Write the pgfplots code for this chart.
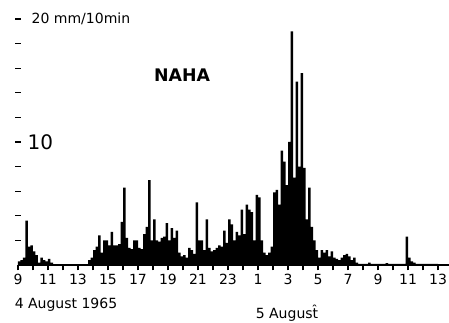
\documentclass[border=0pt]{standalone}
\usepackage{fontspec}
\setmainfont{DejaVu Sans}
\usepackage{pgfplots}
\pgfplotsset{compat=1.18}
\pgfplotstableread{
x y
0 0.3
1 0.4
2 0.6
3 3.6
4 1.5
5 1.6
6 1.1
7 0.8
8 0.2
9 0.6
10 0.4
11 0.3
12 0.5
13 0.2
14 0
27 0
28 0.4
29 0.6
30 1.2
31 1.5
32 2.4
33 1.0
34 2.0
35 2.0
36 1.6
37 2.7
38 1.6
39 1.6
40 1.7
41 3.5
42 6.3
43 2.2
44 1.4
45 1.3
46 2.0
47 2.0
48 1.4
49 1.3
50 2.5
51 3.1
52 6.9
53 2.0
54 3.7
55 2.0
56 1.9
57 2.2
58 2.3
59 3.4
60 2.0
61 3.0
62 2.2
63 2.8
64 1.0
65 0.7
66 0.8
67 0.6
68 1.4
69 1.2
70 0.9
71 5.1
72 2.0
73 2.0
74 1.2
75 3.7
76 1.4
77 1.1
78 1.2
79 1.4
80 1.6
81 1.5
82 2.8
83 1.8
84 3.7
85 3.3
86 2.0
87 2.7
88 2.4
89 4.5
90 2.5
91 4.9
92 4.5
93 4.3
94 2.0
95 5.7
96 5.5
97 2.0
98 1.0
99 0.8
100 1.0
101 1.5
102 5.9
103 6.1
104 4.9
105 9.3
106 8.4
107 6.5
108 10.0
109 19.0
110 7.1
111 14.9
112 8.0
113 15.6
114 7.9
115 3.7
116 6.3
117 3.1
118 2.0
119 1.2
120 0.6
121 1.2
122 1.0
123 1.2
124 0.7
125 1.1
126 0.6
127 0.5
128 0.4
129 0.6
130 0.8
131 0.9
132 0.7
133 0.4
134 0.6
135 0.2
136 0.1
140 0.2
141 0.1
146 0.1
147 0.15
148 0.1
155 2.3
156 0.6
157 0.3
158 0.2
159 0.1
168 0
}\rain
\begin{document}
\begin{tikzpicture}[x=1pt,y=1pt]
\useasboundingbox (0,0) rectangle (336.75,242.25);
\begin{axis}[
  at={(13.5pt,43.5pt)}, anchor=south west,
  scale only axis, width=323.25pt, height=184.5pt,
  xmin=0, xmax=172.4, ymin=0, ymax=20,
  axis x line=bottom, axis y line=left,
  axis line style={-, line width=0.9pt},
  y axis line style={draw=none},
  xtick={0,6,...,168},
  xticklabels={9,,11,,13,,15,,17,,19,,21,,23,,1,,3,,5,,7,,9,,11,,13},
  ytick={2,4,...,20}, yticklabels={},
  xtick align=outside, ytick align=center,
  major tick length=4pt,
  tick style={black, line width=0.8pt},
  xticklabel style={font=\fontsize{10.5}{10.5}\selectfont, inner sep=1pt, yshift=-2pt},
  clip=false,
]
\addplot[const plot mark left, fill=black, draw=none] table[x=x,y=y] {\rain} \closedcycle;
\node[anchor=west, font=\fontsize{10.5}{10.5}\selectfont] at (axis cs:3.6,20) {20 mm/10min};
\node[anchor=west, font=\fontsize{15}{15}\selectfont] at (axis cs:2.0,10) {10};
\node[font=\bfseries\fontsize{13}{13}\selectfont] at (axis cs:65.6,15.45) {NAHA};
\end{axis}
\node[font=\fontsize{10.5}{10.5}\selectfont] at (49.5,13.5) {4 August 1965};
\node[font=\fontsize{10.5}{10.5}\selectfont] at (215.25,7.5) {5 Augus\^{t}};
\end{tikzpicture}
\end{document}
